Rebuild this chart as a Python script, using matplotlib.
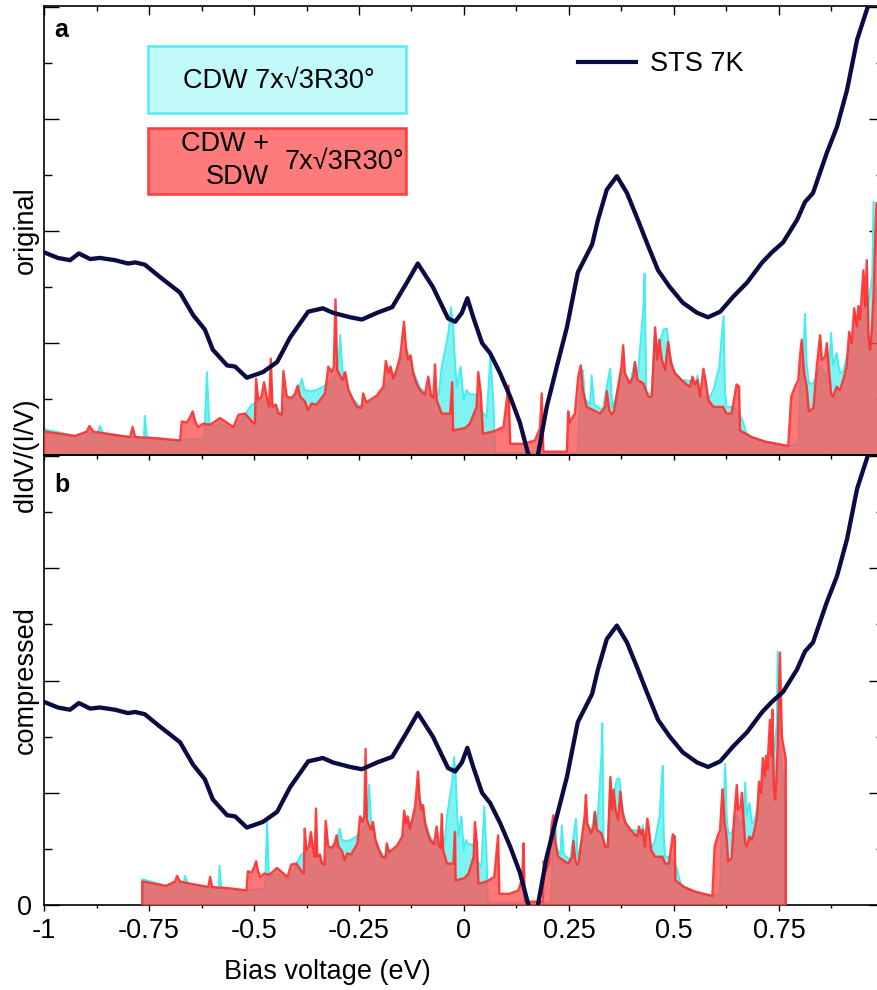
import numpy as np
import matplotlib
matplotlib.use("Agg")
import matplotlib.pyplot as plt
from matplotlib.patches import Rectangle
from matplotlib.lines import Line2D
from matplotlib.ticker import FixedLocator, MultipleLocator, NullFormatter, FixedFormatter

plt.rcParams['font.family'] = ['Liberation Sans', 'DejaVu Sans']

# ---------------- data ----------------
# STS 7K measured curve: bias (eV) and normalized dIdV/(I/V)
sts_bias = [-1.000, -0.967, -0.938, -0.917, -0.890, -0.867, -0.831, -0.800, -0.783, -0.760,
            -0.724, -0.676, -0.645, -0.617, -0.598, -0.564, -0.545, -0.517, -0.479, -0.445,
            -0.414, -0.371, -0.336, -0.312, -0.271, -0.243, -0.207, -0.171, -0.136, -0.110,
            -0.074, -0.038, -0.021, -0.005, 0.008, 0.022, 0.043, 0.062, 0.086, 0.110,
            0.133, 0.152, 0.165, 0.176, 0.197, 0.221, 0.245, 0.271, 0.305, 0.319,
            0.340, 0.364, 0.388, 0.414, 0.436, 0.462, 0.490, 0.521, 0.555, 0.581,
            0.610, 0.640, 0.674, 0.710, 0.733, 0.760, 0.793, 0.812, 0.831, 0.864,
            0.888, 0.912, 0.936, 0.962, 0.990]
sts_val = [1.81, 1.76, 1.74, 1.80, 1.75, 1.76, 1.74, 1.71, 1.72, 1.70,
           1.59, 1.45, 1.25, 1.12, 0.94, 0.80, 0.79, 0.69, 0.74, 0.83,
           1.05, 1.28, 1.31, 1.27, 1.23, 1.21, 1.27, 1.32, 1.54, 1.71,
           1.50, 1.22, 1.19, 1.27, 1.40, 1.23, 1.00, 0.91, 0.73, 0.52,
           0.29, 0.02, -0.10, 0.00, 0.43, 0.79, 1.14, 1.63, 1.88, 2.10,
           2.37, 2.49, 2.34, 2.10, 1.89, 1.65, 1.50, 1.36, 1.27, 1.23,
           1.28, 1.41, 1.54, 1.72, 1.81, 1.90, 2.10, 2.26, 2.34, 2.70,
           2.93, 3.26, 3.71, 4.01, 4.40]

# Calculated DOS, CDW + SDW 7x sqrt3 R30 (red)
sdw_bias = [-1.000, -0.962, -0.926, -0.898, -0.892, -0.883, -0.851, -0.795, -0.789, -0.783,
            -0.732, -0.676, -0.672, -0.660, -0.652, -0.646, -0.640, -0.633, -0.621, -0.605,
            -0.581, -0.565, -0.549, -0.537, -0.521, -0.505, -0.498, -0.495, -0.490, -0.482,
            -0.476, -0.470, -0.464, -0.460, -0.456, -0.448, -0.442, -0.434, -0.430, -0.422,
            -0.410, -0.402, -0.396, -0.390, -0.379, -0.371, -0.363, -0.351, -0.343, -0.331,
            -0.323, -0.315, -0.310, -0.306, -0.302, -0.295, -0.289, -0.283, -0.275, -0.264,
            -0.255, -0.244, -0.240, -0.233, -0.208, -0.192, -0.186, -0.180, -0.175, -0.168,
            -0.160, -0.152, -0.148, -0.143, -0.138, -0.133, -0.127, -0.121, -0.113, -0.105,
            -0.093, -0.085, -0.079, -0.073, -0.069, -0.065, -0.053, -0.033, -0.028, -0.026,
            0.002, 0.014, 0.030, 0.034, 0.040, 0.045, 0.070, 0.094, 0.106, 0.110,
            0.141, 0.169, 0.181, 0.185, 0.189, 0.245, 0.248, 0.252, 0.259, 0.264,
            0.272, 0.278, 0.283, 0.292, 0.308, 0.324, 0.336, 0.340, 0.346, 0.352,
            0.357, 0.364, 0.371, 0.375, 0.379, 0.383, 0.395, 0.403, 0.407, 0.413,
            0.427, 0.439, 0.447, 0.451, 0.455, 0.460, 0.465, 0.471, 0.479, 0.486,
            0.493, 0.502, 0.518, 0.530, 0.538, 0.544, 0.550, 0.556, 0.562, 0.570,
            0.575, 0.582, 0.594, 0.617, 0.625, 0.637, 0.649, 0.655, 0.657, 0.685,
            0.717, 0.772, 0.779, 0.788, 0.796, 0.800, 0.804, 0.810, 0.816, 0.821,
            0.832, 0.840, 0.848, 0.852, 0.860, 0.864, 0.867, 0.874, 0.879, 0.887,
            0.895, 0.903, 0.911, 0.917, 0.923, 0.929, 0.935, 0.939, 0.943, 0.951,
            0.955, 0.959, 0.963, 0.967, 0.971, 0.975, 0.982, 0.988, 1.000]
sdw_val = [0.21, 0.19, 0.17, 0.21, 0.26, 0.21, 0.19, 0.16, 0.25, 0.16,
           0.15, 0.13, 0.30, 0.29, 0.34, 0.39, 0.30, 0.25, 0.28, 0.27,
           0.33, 0.29, 0.25, 0.36, 0.37, 0.30, 0.28, 0.68, 0.49, 0.52,
           0.65, 0.52, 0.43, 0.86, 0.43, 0.45, 0.37, 0.36, 0.75, 0.52,
           0.51, 0.55, 0.62, 0.52, 0.48, 0.40, 0.46, 0.45, 0.49, 0.55,
           0.79, 0.74, 0.79, 1.39, 0.76, 0.71, 0.67, 0.74, 0.58, 0.49,
           0.43, 0.42, 0.55, 0.47, 0.53, 0.61, 0.84, 0.73, 0.79, 0.68,
           0.77, 0.88, 1.01, 1.19, 0.95, 0.85, 0.89, 0.73, 0.64, 0.58,
           0.54, 0.70, 0.54, 0.51, 0.81, 0.49, 0.37, 0.37, 0.65, 0.22,
           0.24, 0.28, 0.43, 0.74, 0.55, 0.19, 0.21, 0.25, 0.62, 0.10,
           0.10, 0.13, 0.24, 0.55, 0.03, 0.03, 0.39, 0.29, 0.34, 0.37,
           0.70, 0.80, 0.58, 0.43, 0.40, 0.37, 0.43, 0.57, 0.40, 0.36,
           0.39, 0.55, 0.70, 0.79, 0.98, 0.73, 0.64, 0.70, 0.83, 0.67,
           0.64, 0.52, 0.52, 0.82, 1.14, 0.85, 1.03, 0.85, 0.76, 1.01,
           0.82, 0.73, 0.67, 0.63, 0.61, 0.70, 0.63, 0.67, 0.52, 0.77,
           0.67, 0.49, 0.43, 0.43, 0.37, 0.37, 0.63, 0.61, 0.22, 0.16,
           0.12, 0.08, 0.52, 0.61, 0.67, 0.88, 1.03, 0.73, 0.61, 0.39,
           0.42, 0.79, 1.07, 0.85, 0.88, 1.00, 0.85, 0.55, 0.52, 0.61,
           0.58, 0.67, 0.79, 1.10, 1.00, 1.31, 1.15, 1.33, 1.21, 1.65,
           1.33, 1.74, 1.06, 0.94, 1.12, 1.41, 2.25, 1.50, 1.30]

# Calculated DOS, CDW 7x sqrt3 R30 (cyan)
cdw_bias = [-1.000, -0.962, -0.926, -0.898, -0.872, -0.867, -0.860, -0.851, -0.795, -0.770,
            -0.762, -0.760, -0.755, -0.732, -0.676, -0.620, -0.617, -0.612, -0.607, -0.600,
            -0.581, -0.549, -0.530, -0.515, -0.505, -0.495, -0.480, -0.464, -0.450, -0.434,
            -0.422, -0.410, -0.397, -0.386, -0.380, -0.365, -0.351, -0.335, -0.323, -0.310,
            -0.300, -0.295, -0.289, -0.283, -0.275, -0.264, -0.250, -0.233, -0.208, -0.190,
            -0.175, -0.160, -0.150, -0.138, -0.133, -0.121, -0.105, -0.090, -0.075, -0.060,
            -0.053, -0.037, -0.031, -0.026, -0.021, -0.017, -0.008, -0.001, 0.006, 0.014,
            0.030, 0.040, 0.054, 0.063, 0.070, 0.074, 0.270, 0.276, 0.283, 0.288,
            0.300, 0.304, 0.310, 0.330, 0.348, 0.353, 0.365, 0.375, 0.383, 0.395,
            0.407, 0.413, 0.419, 0.427, 0.430, 0.434, 0.447, 0.455, 0.462, 0.470,
            0.475, 0.483, 0.490, 0.500, 0.518, 0.544, 0.550, 0.556, 0.562, 0.582,
            0.594, 0.608, 0.614, 0.618, 0.621, 0.625, 0.637, 0.649, 0.661, 0.673,
            0.685, 0.717, 0.772, 0.796, 0.800, 0.808, 0.812, 0.816, 0.821, 0.832,
            0.848, 0.860, 0.870, 0.874, 0.879, 0.887, 0.895, 0.903, 0.917, 0.935,
            0.950, 0.965, 0.972, 0.975, 0.979, 0.990, 1.000]
cdw_val = [0.23, 0.20, 0.17, 0.20, 0.19, 0.26, 0.20, 0.19, 0.16, 0.15,
           0.15, 0.35, 0.16, 0.14, 0.13, 0.15, 0.27, 0.74, 0.30, 0.26,
           0.28, 0.23, 0.30, 0.40, 0.45, 0.47, 0.48, 0.47, 0.44, 0.36,
           0.50, 0.50, 0.55, 0.68, 0.58, 0.57, 0.58, 0.61, 0.65, 0.70,
           0.75, 1.07, 0.75, 0.68, 0.58, 0.50, 0.44, 0.45, 0.50, 0.60,
           0.70, 0.75, 0.85, 0.96, 0.90, 0.75, 0.60, 0.55, 0.52, 0.55,
           0.79, 1.09, 1.32, 1.15, 0.80, 0.61, 0.79, 0.49, 0.58, 0.54,
           0.54, 0.40, 0.34, 0.88, 0.45, 0.02, 0.02, 0.50, 0.76, 0.50,
           0.45, 0.71, 0.45, 0.40, 0.77, 0.42, 0.55, 0.75, 0.73, 0.64,
           0.83, 0.68, 0.94, 1.32, 1.62, 0.55, 0.55, 1.10, 0.90, 1.05,
           1.12, 1.13, 0.90, 0.75, 0.67, 0.66, 0.60, 0.71, 0.55, 0.50,
           0.58, 0.79, 1.09, 1.24, 0.60, 0.43, 0.43, 0.40, 0.33, 0.19,
           0.16, 0.12, 0.08, 0.10, 0.60, 0.90, 1.26, 0.80, 0.64, 0.64,
           0.80, 0.70, 0.80, 1.09, 0.80, 0.91, 0.73, 0.75, 0.95, 1.15,
           1.30, 1.40, 1.60, 2.26, 1.50, 1.20, 0.96]

compression = 0.766   # energy-axis compression factor of panel b

x_ticks = [-1, -0.75, -0.5, -0.25, 0, 0.25, 0.5, 0.75]
x_ticklabels = ['-1', '-0.75', '-0.5', '-0.25', '0', '0.25', '0.5', '0.75']
x_minor = [-0.875, -0.625, -0.375, -0.125, 0.125, 0.375, 0.625, 0.875]
panel_labels = ['a', 'b']
panel_ylabels = ['original', 'compressed']

# ---------------- figure ----------------
W, H = 877, 990
fig = plt.figure(figsize=(W / 100, H / 100), dpi=100)


def fx(px):
    return px / W


def fy(py):
    return 1 - py / H


FS = 19.5
STS_C = '#0c0c44'
CYAN_FILL = '#00e6e6'
CYAN_LINE = '#44eeee'
RED_FILL = '#ff5252'
RED_LINE = '#ff2e2e'

ax_a = fig.add_axes([fx(44), fy(455), fx(884) - fx(44), fy(6) - fy(455)])
ax_b = fig.add_axes([fx(44), fy(905), fx(884) - fx(44), fy(455) - fy(905)])

for i, ax in enumerate([ax_a, ax_b]):
    scale = 1.0 if i == 0 else compression
    xc = np.array(cdw_bias) * scale
    xr = np.array(sdw_bias) * scale
    yc = np.array(cdw_val)
    yr = np.array(sdw_val)
    ax.fill_between(xc, 0, yc, color=CYAN_FILL, alpha=0.5, lw=0, zorder=1)
    ax.plot(np.r_[xc[0], xc, xc[-1]], np.r_[0, yc, 0], color=CYAN_LINE, lw=1.4, zorder=2)
    ax.fill_between(xr, 0, yr, color=RED_FILL, alpha=0.78, lw=0, zorder=3)
    ax.plot(np.r_[xr[0], xr, xr[-1]], np.r_[0, yr, 0], color=RED_LINE, lw=1.7, alpha=0.9, zorder=4)
    ax.plot(sts_bias, sts_val, color=STS_C, lw=3.1, zorder=5, solid_capstyle='round',
            solid_joinstyle='round')

    ax.set_xlim(-1, 1)
    ax.set_ylim(0, 4.01)
    for s in ax.spines.values():
        s.set_linewidth(1.2)
    ax.yaxis.set_major_locator(MultipleLocator(1.0))
    ax.yaxis.set_minor_locator(MultipleLocator(0.5))
    ax.tick_params(axis='y', which='major', direction='in', left=True, right=True,
                   length=10.5, width=1.0, labelsize=FS, pad=8.5)
    ax.tick_params(axis='y', which='minor', direction='in', left=True, right=True,
                   length=5.5, width=1.0)
    ax.xaxis.set_major_locator(FixedLocator(x_ticks))
    ax.xaxis.set_minor_locator(FixedLocator(x_minor))
    fig.text(fx(54), fy(37 + 455 * i), panel_labels[i], fontsize=18, fontweight='bold',
             ha='left', va='baseline')
    fig.text(fx(26), fy(230 + 450 * i), panel_ylabels[i], fontsize=FS, rotation=90,
             ha='center', va='center')

# panel a: no labels; top ticks inward
ax_a.tick_params(axis='x', which='both', top=True, bottom=False, labeltop=False,
                 labelbottom=False, direction='in', width=1.0)
ax_a.tick_params(axis='x', which='major', length=6.5)
ax_a.tick_params(axis='x', which='minor', length=3.6)
ax_a.yaxis.set_major_formatter(NullFormatter())

# panel b: bottom ticks outward with labels, top ticks inward
ax_b.xaxis.set_major_formatter(FixedFormatter(x_ticklabels))
ax_b.tick_params(axis='x', which='both', top=False, bottom=True, direction='out',
                 width=1.0, labelsize=FS, pad=5)
ax_b.tick_params(axis='x', which='major', length=4.5)
ax_b.tick_params(axis='x', which='minor', length=2.5)
ax_b.yaxis.set_major_formatter(FixedFormatter(['0', '', '', '', '']))
ax_b.yaxis.set_major_locator(FixedLocator([0, 1, 2, 3, 4]))
sec = ax_b.secondary_xaxis('top')
sec.xaxis.set_major_locator(FixedLocator(x_ticks))
sec.xaxis.set_minor_locator(FixedLocator(x_minor))
sec.tick_params(axis='x', which='both', direction='in', labeltop=False, width=1.0)
sec.tick_params(axis='x', which='major', length=3.6)
sec.tick_params(axis='x', which='minor', length=3.0)
sec.spines['top'].set_linewidth(1.2)

# axis labels
fig.text(fx(327), fy(979), 'Bias voltage (eV)', fontsize=FS, ha='center', va='baseline')
fig.text(fx(26), fy(455), 'dIdV/(I/V)', fontsize=FS, rotation=90, ha='center', va='center')

# legend boxes
fig.add_artist(Rectangle((fx(148), fy(113)), fx(406) - fx(148), fy(46) - fy(113),
                         transform=fig.transFigure, facecolor='#c2f9f9',
                         edgecolor='#55eeee', lw=1.8, zorder=10))
fig.text(fx(279), fy(81), 'CDW 7x\u221a3R30\u00b0', fontsize=FS, ha='center', va='center', zorder=11)
fig.add_artist(Rectangle((fx(148), fy(194)), fx(406) - fx(148), fy(128) - fy(194),
                         transform=fig.transFigure, facecolor='#ff7a7a',
                         edgecolor='#ff3a3a', lw=1.8, zorder=10))
fig.text(fx(269), fy(144), 'CDW +', fontsize=FS, ha='right', va='center', zorder=11)
fig.text(fx(269), fy(177), 'SDW', fontsize=FS, ha='right', va='center', zorder=11)
fig.text(fx(344), fy(162), '7x\u221a3R30\u00b0', fontsize=FS, ha='center', va='center', zorder=11)

fig.add_artist(Line2D([fx(578), fx(636)], [fy(62), fy(62)], transform=fig.transFigure,
                      color=STS_C, lw=3.0, zorder=11))
fig.text(fx(650), fy(64), 'STS 7K', fontsize=FS, ha='left', va='center', zorder=11)

fig.savefig('out.png', dpi=100)
